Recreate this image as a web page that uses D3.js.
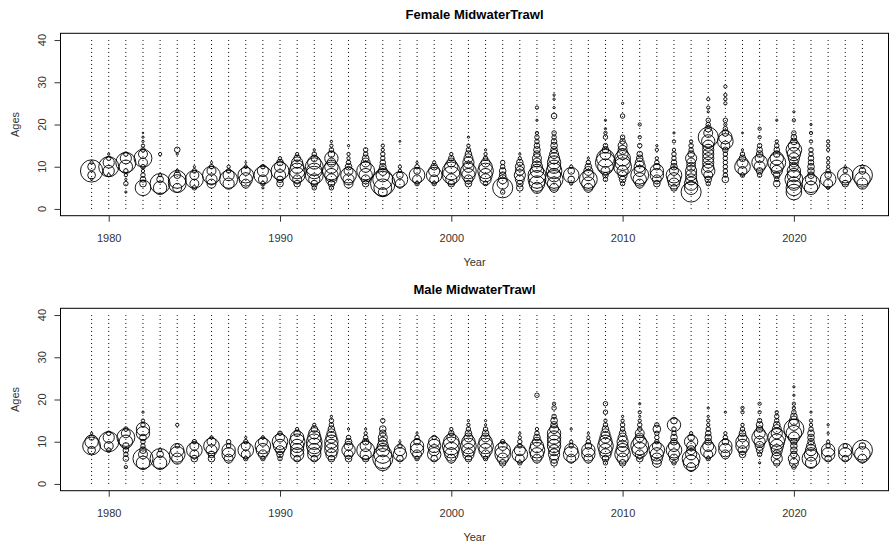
<!DOCTYPE html>
<html><head><meta charset="utf-8">
<script src="https://cdn.jsdelivr.net/npm/d3@7/dist/d3.min.js"></script>
<style>body{margin:0;background:#fff}svg{display:block}text{font-family:"Liberation Sans",Arial,sans-serif}</style>
</head><body><svg id="c" width="890" height="548"></svg>
<script>
const years = d3.range(1979, 2025);
const ageTicks = [0, 10, 20, 30, 40];
const yearTicks = [1980, 1990, 2000, 2010, 2020];
const panelTitles = ["Female MidwaterTrawl", "Male MidwaterTrawl"];

// proportions at age, one list per year (1979..2024)
const femaleComps = [
 [[7,.006],[8,.072],[9,.592],[10,.072],[11,.013]],
 [[8,.013],[9,.148],[10,.479],[11,.148],[12,.024],[13,.006]],
 [[4,.006],[6,.024],[7,.006],[8,.013],[9,.024],[10,.213],[11,.479],[12,.148],[13,.024]],
 [[5,.29],[6,.053],[7,.037],[8,.024],[9,.013],[10,.024],[11,.095],[12,.379],[13,.095],[14,.024],[15,.013],[16,.006],[17,.006],[18,.003]],
 [[5,.213],[6,.479],[7,.053],[8,.013],[13,.013]],
 [[5,.095],[6,.379],[7,.379],[8,.053],[9,.013],[13,.006],[14,.037]],
 [[5,.024],[6,.095],[7,.379],[8,.095],[9,.024],[10,.006]],
 [[6,.095],[7,.148],[8,.379],[9,.095],[10,.024],[11,.006]],
 [[6,.148],[7,.379],[8,.148],[9,.024],[10,.013]],
 [[6,.095],[7,.213],[8,.29],[9,.095],[10,.013],[11,.004]],
 [[5,.006],[6,.024],[7,.095],[8,.379],[9,.148],[10,.024]],
 [[6,.053],[7,.053],[8,.148],[9,.379],[10,.148],[11,.053],[12,.013]],
 [[6,.053],[7,.095],[8,.29],[9,.29],[10,.213],[11,.148],[12,.053],[13,.013]],
 [[5,.024],[6,.053],[7,.148],[8,.379],[9,.29],[10,.379],[11,.213],[12,.053],[13,.024],[14,.006]],
 [[5,.024],[6,.053],[7,.148],[8,.213],[9,.379],[10,.213],[11,.095],[12,.213],[13,.053],[14,.024],[15,.013],[16,.006]],
 [[6,.095],[7,.148],[8,.29],[9,.095],[10,.053],[11,.024],[12,.013],[13,.013],[15,.006]],
 [[6,.053],[7,.095],[8,.213],[9,.379],[10,.148],[11,.095],[12,.053],[13,.024],[14,.024]],
 [[4,.095],[5,.379],[6,.716],[7,.479],[8,.213],[9,.095],[10,.053],[11,.037],[12,.024],[13,.024],[14,.013],[15,.013]],
 [[6,.095],[7,.29],[8,.053],[9,.013],[10,.013],[16,.004]],
 [[6,.024],[7,.095],[8,.29],[9,.053],[10,.024],[11,.006]],
 [[6,.024],[7,.095],[8,.29],[9,.148],[10,.053],[11,.013]],
 [[6,.053],[7,.148],[8,.379],[9,.379],[10,.213],[11,.095],[12,.037],[13,.013]],
 [[6,.053],[7,.095],[8,.213],[9,.29],[10,.148],[11,.148],[12,.095],[13,.053],[14,.024],[15,.013],[17,.006]],
 [[6,.024],[7,.148],[8,.213],[9,.29],[10,.213],[11,.095],[12,.024],[13,.013],[14,.006]],
 [[4,.024],[5,.479],[6,.148],[7,.095],[8,.053],[9,.053],[10,.024],[11,.024]],
 [[5,.053],[6,.053],[7,.095],[8,.148],[9,.095],[10,.095],[11,.053],[12,.013],[13,.006]],
 [[5,.148],[6,.29],[7,.379],[8,.379],[9,.213],[10,.148],[11,.095],[12,.095],[13,.053],[14,.053],[15,.037],[16,.024],[17,.024],[18,.013],[21,.006],[24,.013]],
 [[5,.095],[6,.213],[7,.379],[8,.213],[9,.29],[10,.213],[11,.213],[12,.148],[13,.095],[14,.053],[15,.053],[16,.037],[17,.024],[18,.024],[22,.037],[24,.006],[26,.006],[27,.006]],
 [[6,.013],[7,.053],[8,.29],[9,.053],[10,.013]],
 [[5,.095],[6,.213],[7,.379],[8,.148],[9,.095],[10,.053],[11,.024],[12,.006]],
 [[7,.024],[8,.037],[9,.095],[10,.29],[11,.479],[12,.379],[13,.148],[14,.053],[15,.024],[17,.024],[18,.013],[19,.006],[21,.006]],
 [[6,.024],[7,.053],[8,.095],[9,.148],[10,.379],[11,.29],[12,.29],[13,.148],[14,.095],[15,.095],[16,.037],[17,.024],[22,.024],[25,.006]],
 [[6,.095],[7,.213],[8,.379],[9,.148],[10,.148],[11,.095],[12,.053],[13,.037],[15,.024],[17,.013],[20,.013]],
 [[6,.053],[7,.095],[8,.213],[9,.213],[10,.053],[11,.024],[12,.013],[14,.013],[15,.006]],
 [[5,.053],[6,.148],[7,.213],[8,.29],[9,.095],[10,.053],[11,.037],[12,.024],[13,.024],[14,.013],[16,.013],[18,.006]],
 [[4,.479],[5,.213],[6,.213],[7,.148],[8,.148],[9,.148],[10,.095],[11,.095],[12,.148],[13,.053],[14,.024],[15,.024],[16,.013]],
 [[6,.024],[7,.053],[8,.095],[9,.213],[10,.148],[11,.148],[12,.148],[13,.148],[14,.148],[15,.148],[16,.213],[17,.479],[18,.095],[19,.053],[20,.024],[21,.024],[23,.006],[24,.013],[26,.013]],
 [[7,.053],[8,.024],[9,.024],[10,.024],[11,.024],[12,.024],[13,.024],[14,.037],[15,.095],[16,.29],[17,.213],[18,.053],[19,.024],[20,.013],[21,.024],[25,.013],[26,.013],[27,.013],[29,.013]],
 [[8,.024],[9,.095],[10,.29],[11,.148],[12,.053],[13,.024],[14,.006],[18,.004]],
 [[8,.024],[9,.053],[10,.148],[11,.29],[12,.095],[13,.053],[14,.037],[15,.024],[17,.013],[19,.013]],
 [[6,.053],[7,.024],[8,.053],[9,.148],[10,.213],[11,.379],[12,.213],[13,.053],[14,.037],[15,.024],[16,.013],[21,.006]],
 [[4,.29],[5,.29],[6,.213],[7,.379],[8,.213],[9,.213],[10,.095],[11,.095],[12,.148],[13,.213],[14,.29],[15,.148],[16,.053],[17,.037],[18,.024],[21,.013],[23,.006]],
 [[5,.213],[6,.379],[7,.148],[8,.053],[9,.053],[10,.053],[11,.037],[12,.037],[13,.024],[14,.024],[16,.013],[18,.013],[20,.006]],
 [[5,.013],[6,.095],[7,.29],[8,.053],[9,.024],[10,.013],[11,.013],[12,.013],[14,.013],[15,.013],[16,.013]],
 [[6,.053],[7,.148],[8,.29],[9,.024],[10,.006]],
 [[6,.148],[7,.29],[8,.479],[9,.053],[10,.013]]
];

const maleComps = [
 [[8,.072],[9,.379],[10,.213],[11,.037],[12,.006]],
 [[8,.024],[9,.095],[10,.479],[11,.148],[12,.024]],
 [[4,.013],[6,.037],[7,.024],[8,.037],[9,.053],[10,.213],[11,.379],[12,.095],[13,.024]],
 [[5,.213],[6,.479],[7,.095],[8,.053],[9,.024],[10,.024],[11,.053],[12,.213],[13,.213],[14,.024],[15,.013],[17,.006]],
 [[5,.213],[6,.479],[7,.053],[8,.013]],
 [[6,.148],[7,.29],[8,.213],[9,.024],[14,.013]],
 [[6,.053],[7,.095],[8,.29],[9,.095],[10,.024]],
 [[6,.053],[7,.053],[8,.148],[9,.29],[10,.095],[11,.013]],
 [[6,.095],[7,.213],[8,.213],[9,.024],[10,.024]],
 [[6,.024],[7,.095],[8,.29],[9,.095],[10,.024],[11,.006]],
 [[6,.024],[7,.095],[8,.213],[9,.29],[10,.095],[11,.013]],
 [[6,.024],[7,.053],[8,.095],[9,.213],[10,.29],[11,.095],[12,.024]],
 [[6,.053],[7,.213],[8,.213],[9,.213],[10,.29],[11,.213],[12,.053],[13,.013]],
 [[6,.053],[7,.213],[8,.213],[9,.29],[10,.29],[11,.213],[12,.148],[13,.053],[14,.013]],
 [[6,.053],[7,.148],[8,.213],[9,.213],[10,.213],[11,.148],[12,.095],[13,.053],[14,.024],[15,.024],[16,.006]],
 [[6,.053],[7,.095],[8,.213],[9,.095],[10,.053],[11,.024],[13,.006]],
 [[6,.053],[7,.148],[8,.379],[9,.148],[10,.053],[11,.024],[12,.013],[13,.006]],
 [[5,.29],[6,.479],[7,.379],[8,.213],[9,.148],[10,.095],[11,.095],[12,.053],[13,.053],[15,.024]],
 [[6,.053],[7,.213],[8,.148],[9,.024],[10,.006]],
 [[6,.024],[7,.095],[8,.213],[9,.213],[10,.053],[11,.024],[12,.006]],
 [[6,.053],[7,.213],[8,.148],[9,.213],[10,.148],[11,.024]],
 [[6,.095],[7,.213],[8,.29],[9,.379],[10,.29],[11,.095],[12,.037],[13,.013]],
 [[6,.053],[7,.148],[8,.213],[9,.29],[10,.213],[11,.095],[12,.053],[13,.024],[14,.013],[15,.006]],
 [[6,.024],[7,.095],[8,.213],[9,.29],[10,.213],[11,.095],[12,.053],[13,.024],[14,.006],[15,.006]],
 [[5,.053],[6,.148],[7,.29],[8,.29],[9,.095],[10,.024]],
 [[5,.024],[6,.095],[7,.29],[8,.148],[9,.024],[10,.024],[11,.013],[12,.006]],
 [[6,.095],[7,.213],[8,.29],[9,.213],[10,.095],[11,.053],[12,.024],[13,.013],[21,.024]],
 [[5,.053],[6,.095],[7,.148],[8,.148],[9,.213],[10,.213],[11,.213],[12,.213],[13,.095],[14,.053],[15,.053],[16,.024],[18,.024],[19,.013]],
 [[6,.095],[7,.29],[8,.213],[9,.024],[10,.013],[13,.006]],
 [[6,.095],[7,.213],[8,.213],[9,.053],[10,.024],[11,.013],[12,.006]],
 [[5,.024],[6,.053],[7,.148],[8,.213],[9,.29],[10,.213],[11,.148],[12,.095],[13,.053],[14,.024],[15,.013],[17,.024],[19,.024]],
 [[5,.053],[6,.148],[7,.29],[8,.213],[9,.148],[10,.148],[11,.095],[12,.053],[13,.024],[14,.024],[15,.013],[16,.006]],
 [[6,.053],[7,.095],[8,.29],[9,.379],[10,.213],[11,.095],[12,.095],[13,.024],[14,.024],[15,.013],[16,.006],[17,.013],[19,.006]],
 [[5,.095],[6,.148],[7,.213],[8,.29],[9,.095],[10,.024],[11,.024],[12,.024],[13,.072],[14,.024]],
 [[5,.024],[6,.095],[7,.148],[8,.29],[9,.148],[10,.053],[11,.053],[12,.024],[13,.024],[14,.213],[15,.053]],
 [[4,.095],[5,.29],[6,.379],[7,.148],[8,.095],[9,.095],[10,.213],[11,.053],[12,.013]],
 [[6,.024],[7,.095],[8,.29],[9,.148],[10,.053],[11,.053],[12,.037],[13,.024],[14,.013],[15,.013],[16,.006],[18,.006]],
 [[7,.095],[8,.213],[9,.213],[10,.053],[11,.024],[12,.013],[17,.006]],
 [[7,.053],[8,.095],[9,.213],[10,.213],[11,.095],[12,.053],[13,.024],[14,.013],[17,.013],[18,.013]],
 [[5,.006],[7,.024],[8,.053],[9,.095],[10,.148],[11,.29],[12,.148],[13,.053],[14,.053],[15,.024],[17,.013],[19,.013]],
 [[5,.053],[6,.148],[7,.095],[8,.148],[9,.213],[10,.29],[11,.379],[12,.148],[13,.095],[14,.053],[15,.024],[16,.024],[17,.013]],
 [[4,.024],[5,.095],[6,.148],[7,.053],[8,.053],[9,.053],[10,.053],[11,.148],[12,.29],[13,.479],[14,.148],[15,.095],[16,.053],[17,.024],[18,.013],[19,.013],[21,.006],[23,.006]],
 [[5,.148],[6,.379],[7,.213],[8,.148],[9,.095],[10,.053],[11,.053],[12,.053],[13,.024],[14,.013],[15,.013],[17,.006]],
 [[6,.053],[7,.213],[8,.213],[9,.024],[10,.013],[12,.006],[14,.006]],
 [[6,.053],[7,.213],[8,.213],[9,.024]],
 [[6,.095],[7,.29],[8,.479],[9,.053]]
];

const svg = d3.select("#c");
const boxL = 60.5, boxR = 888.5;
const x = d3.scaleLinear().domain([1979, 2024]).range([91.6, 862.4]);
const r = d3.scaleSqrt().domain([0, 1]).range([0, 14.5]);
const panels = [
  {title: panelTitles[0], comps: femaleComps, top: 33.3},
  {title: panelTitles[1], comps: maleComps, top: 308.3}
];
const boxH = 182.4;

panels.forEach(p => {
  const y = d3.scaleLinear().domain([-1.6, 41.6]).range([p.top + boxH, p.top]);
  const g = svg.append("g");
  g.append("text").attr("x", (boxL + boxR) / 2).attr("y", p.top - 14)
    .attr("text-anchor", "middle").attr("font-weight", "bold").attr("font-size", 13)
    .attr("fill", "#000").text(p.title);
  g.append("g").selectAll("line").data(years).join("line")
    .attr("x1", d => x(d)).attr("x2", d => x(d))
    .attr("y1", y(0)).attr("y2", y(40))
    .attr("stroke", "#000").attr("stroke-width", 1).attr("stroke-dasharray", "1,3");
  const pts = [];
  p.comps.forEach((list, i) => list.forEach(([age, v]) => pts.push({yr: years[i], age, v})));
  g.append("g").selectAll("circle").data(pts).join("circle")
    .attr("cx", d => x(d.yr)).attr("cy", d => y(d.age)).attr("r", d => r(d.v))
    .attr("fill", "none").attr("stroke", "#000").attr("stroke-width", 0.9);
  g.append("rect").attr("x", boxL).attr("y", p.top).attr("width", boxR - boxL).attr("height", boxH)
    .attr("fill", "none").attr("stroke", "#000").attr("stroke-width", 1);
  // y axis: ticks via d3 axis, labels rotated (R style)
  const ya = g.append("g").attr("transform", `translate(${boxL},0)`)
    .call(d3.axisLeft(y).tickValues(ageTicks).tickSize(6).tickFormat(""));
  ya.select(".domain").remove();
  ya.selectAll(".tick line").attr("stroke", "#333");
  g.append("g").selectAll("text").data(ageTicks).join("text")
    .attr("transform", d => `translate(${boxL - 15},${y(d)}) rotate(-90)`)
    .attr("text-anchor", "middle").attr("font-size", 11).attr("fill", "#333")
    .text(d => d);
  const xa = g.append("g").attr("transform", `translate(0,${p.top + boxH})`)
    .call(d3.axisBottom(x).tickValues(yearTicks).tickFormat(d3.format("d")).tickSize(6).tickPadding(13));
  xa.select(".domain").remove();
  xa.selectAll("line").attr("stroke", "#333");
  xa.selectAll("text").attr("font-size", 11).attr("fill", "#333");
  g.append("text").attr("x", (boxL + boxR) / 2).attr("y", p.top + boxH + 50)
    .attr("text-anchor", "middle").attr("font-size", 11).attr("fill", "#333").text("Year");
  g.append("text").attr("transform", `translate(19,${p.top + boxH / 2}) rotate(-90)`)
    .attr("text-anchor", "middle").attr("font-size", 11).attr("fill", "#333").text("Ages");
});
</script></body></html>
